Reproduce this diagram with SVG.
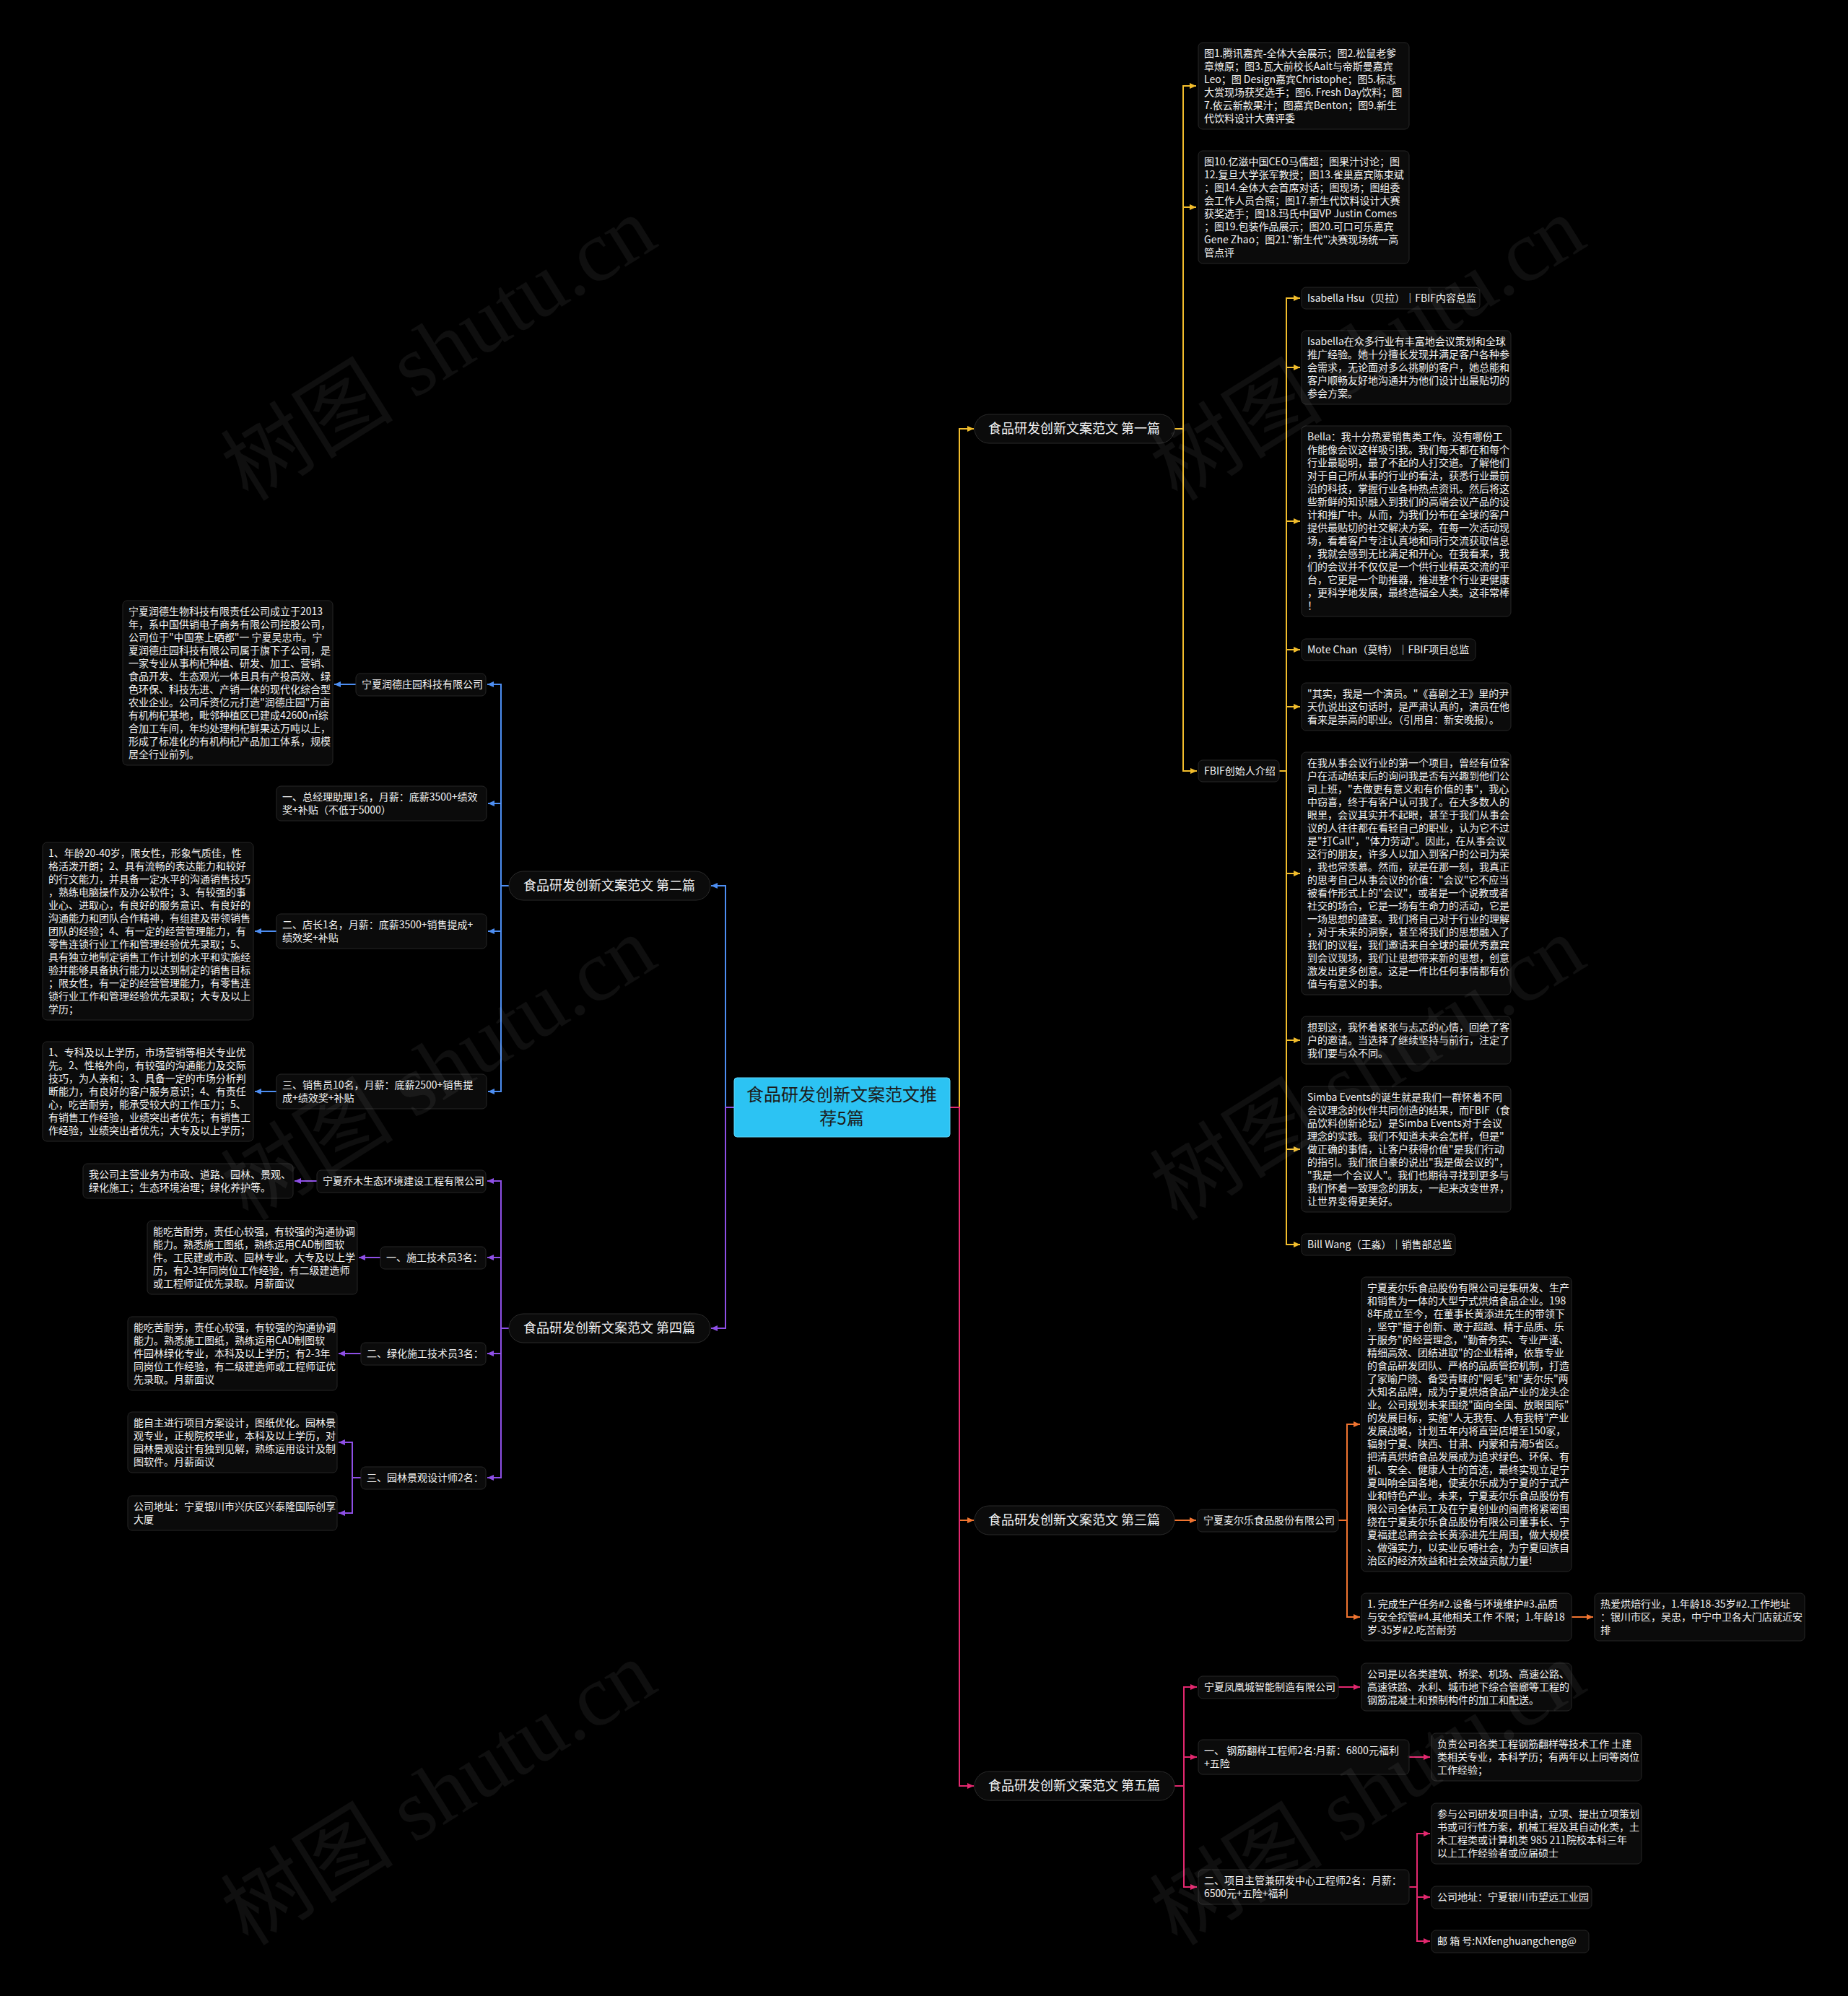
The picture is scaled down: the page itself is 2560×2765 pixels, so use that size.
<svg xmlns="http://www.w3.org/2000/svg" width="2560" height="2765" viewBox="0 0 2560 2765">
<defs>
<style>
.bg{fill:#000}
.box{fill:#0b0b0b;stroke:#262626;stroke-width:1}
.pill{fill:#0b0b0b;stroke:#2a2a2a;stroke-width:1}
.t{font-family:"Noto Sans CJK SC","Noto Sans",sans-serif;font-size:14px;fill:#f2f2f2}
.bt{font-family:"Noto Sans CJK SC","Noto Sans",sans-serif;font-size:18px;fill:#f2f2f2;text-anchor:middle}
.ct{font-family:"Noto Sans CJK SC","Noto Sans",sans-serif;font-size:24px;fill:#1c1c1c;text-anchor:middle}
.ln{fill:none;stroke-width:2}
.y{stroke:#f2bd2c}.b{stroke:#4d8ef2}.p{stroke:#8e4fe6}.o{stroke:#f07430}.r{stroke:#e3286f}
.wm{font-family:"Liberation Serif","Noto Sans CJK SC",serif;font-size:120px;fill:#ffffff;fill-opacity:0.06}
</style>
<marker id="my" markerWidth="10" markerHeight="10" refX="9" refY="5" orient="auto" markerUnits="userSpaceOnUse"><path d="M0,1 L9,5 L0,9 z" fill="#f2bd2c"/></marker>
<marker id="mb" markerWidth="10" markerHeight="10" refX="9" refY="5" orient="auto" markerUnits="userSpaceOnUse"><path d="M0,1 L9,5 L0,9 z" fill="#4d8ef2"/></marker>
<marker id="mp" markerWidth="10" markerHeight="10" refX="9" refY="5" orient="auto" markerUnits="userSpaceOnUse"><path d="M0,1 L9,5 L0,9 z" fill="#8e4fe6"/></marker>
<marker id="mo" markerWidth="10" markerHeight="10" refX="9" refY="5" orient="auto" markerUnits="userSpaceOnUse"><path d="M0,1 L9,5 L0,9 z" fill="#f07430"/></marker>
<marker id="mr" markerWidth="10" markerHeight="10" refX="9" refY="5" orient="auto" markerUnits="userSpaceOnUse"><path d="M0,1 L9,5 L0,9 z" fill="#e3286f"/></marker>
</defs>
<rect class="bg" x="0" y="0" width="2560" height="2765"/>

<g id="connectors">
<!-- center to branches -->
<path class="ln y" d="M1316 1534 H1329 V594 H1349" marker-end="url(#my)"/>
<path class="ln o" d="M1316 1534 H1329 V2106 H1349" marker-end="url(#mo)"/>
<path class="ln r" d="M1316 1534 H1329 V2474 H1349" marker-end="url(#mr)"/>
<path class="ln b" d="M1017 1534 H1005 V1227 H985" marker-end="url(#mb)"/>
<path class="ln p" d="M1017 1534 H1005 V1840 H985" marker-end="url(#mp)"/>
<!-- branch 1 -->
<path class="ln y" d="M1627 594 H1639 V119 H1657" marker-end="url(#my)"/>
<path class="ln y" d="M1627 594 H1639 V287 H1657" marker-end="url(#my)"/>
<path class="ln y" d="M1627 594 H1639 V1068 H1658" marker-end="url(#my)"/>
<path class="ln y" d="M1772 1068 H1782 V413 H1801" marker-end="url(#my)"/>
<path class="ln y" d="M1782 1068 V509 H1801" marker-end="url(#my)"/>
<path class="ln y" d="M1782 1068 V722 H1801" marker-end="url(#my)"/>
<path class="ln y" d="M1782 1068 V900 H1801" marker-end="url(#my)"/>
<path class="ln y" d="M1782 1068 V979 H1801" marker-end="url(#my)"/>
<path class="ln y" d="M1782 1068 V1210 H1801" marker-end="url(#my)"/>
<path class="ln y" d="M1782 1068 V1441 H1801" marker-end="url(#my)"/>
<path class="ln y" d="M1782 1068 V1592 H1801" marker-end="url(#my)"/>
<path class="ln y" d="M1782 1068 V1724 H1801" marker-end="url(#my)"/>
<!-- branch 3 -->
<path class="ln o" d="M1627 2106 H1657" marker-end="url(#mo)"/>
<path class="ln o" d="M1854 2106 H1866 V1973 H1884" marker-end="url(#mo)"/>
<path class="ln o" d="M1866 2106 V2240 H1884" marker-end="url(#mo)"/>
<path class="ln o" d="M2177 2240 H2207" marker-end="url(#mo)"/>
<!-- branch 5 -->
<path class="ln r" d="M1627 2474 H1640 V2337 H1658" marker-end="url(#mr)"/>
<path class="ln r" d="M1640 2474 V2434 H1658" marker-end="url(#mr)"/>
<path class="ln r" d="M1640 2474 V2614 H1658" marker-end="url(#mr)"/>
<path class="ln r" d="M1854 2337 H1884" marker-end="url(#mr)"/>
<path class="ln r" d="M1952 2434 H1981" marker-end="url(#mr)"/>
<path class="ln r" d="M1952 2614 H1963 V2540 H1981" marker-end="url(#mr)"/>
<path class="ln r" d="M1963 2614 V2628 H1981" marker-end="url(#mr)"/>
<path class="ln r" d="M1963 2614 V2689 H1981" marker-end="url(#mr)"/>
<!-- branch 2 -->
<path class="ln b" d="M705 1227 H694 V948 H675" marker-end="url(#mb)"/>
<path class="ln b" d="M694 1227 V1113 H676" marker-end="url(#mb)"/>
<path class="ln b" d="M694 1227 V1290 H676" marker-end="url(#mb)"/>
<path class="ln b" d="M694 1227 V1512 H676" marker-end="url(#mb)"/>
<path class="ln b" d="M493 948 H463" marker-end="url(#mb)"/>
<path class="ln b" d="M383 1290 H353" marker-end="url(#mb)"/>
<path class="ln b" d="M383 1512 H353" marker-end="url(#mb)"/>
<!-- branch 4 -->
<path class="ln p" d="M705 1840 H694 V1636 H675" marker-end="url(#mp)"/>
<path class="ln p" d="M694 1840 V1742 H675" marker-end="url(#mp)"/>
<path class="ln p" d="M694 1840 V1875 H675" marker-end="url(#mp)"/>
<path class="ln p" d="M694 1840 V2047 H675" marker-end="url(#mp)"/>
<path class="ln p" d="M439 1636 H408" marker-end="url(#mp)"/>
<path class="ln p" d="M527 1742 H497" marker-end="url(#mp)"/>
<path class="ln p" d="M500 1875 H469" marker-end="url(#mp)"/>
<path class="ln p" d="M500 2047 H488 V1998 H469" marker-end="url(#mp)"/>
<path class="ln p" d="M488 2047 V2096 H469" marker-end="url(#mp)"/>
</g>

<g id="center">
<rect x="1017" y="1493" width="299" height="82" rx="4" fill="#2cc3f3" stroke="#5fd5fa" stroke-width="1"/>
<text class="ct"><tspan x="1166" y="1525">食品研发创新文案范文推</tspan><tspan x="1166" y="1558">荐5篇</tspan></text>
</g>

<g id="b1"><rect class="pill" x="1350" y="574" width="277" height="40" rx="20"/><text class="bt" x="1488" y="600">食品研发创新文案范文 第一篇</text></g>
<g id="b2"><rect class="pill" x="705" y="1207" width="279" height="40" rx="20"/><text class="bt" x="844" y="1233">食品研发创新文案范文 第二篇</text></g>
<g id="b3"><rect class="pill" x="1350" y="2086" width="277" height="40" rx="20"/><text class="bt" x="1488" y="2112">食品研发创新文案范文 第三篇</text></g>
<g id="b4"><rect class="pill" x="705" y="1820" width="279" height="40" rx="20"/><text class="bt" x="844" y="1846">食品研发创新文案范文 第四篇</text></g>
<g id="b5"><rect class="pill" x="1350" y="2454" width="277" height="40" rx="20"/><text class="bt" x="1488" y="2480">食品研发创新文案范文 第五篇</text></g>

<!-- branch 1 children -->
<g id="n-pics1"><rect class="box" x="1660" y="59" width="292" height="120" rx="6"/>
<text class="t"><tspan x="1668" y="79">图1.腾讯嘉宾-全体大会展示；图2.松鼠老爹</tspan><tspan x="1668" y="97">章燎原；图3.瓦大前校长Aalt与帝斯曼嘉宾</tspan><tspan x="1668" y="115">Leo；图 Design嘉宾Christophe；图5.标志</tspan><tspan x="1668" y="133">大赏现场获奖选手；图6. Fresh Day饮料；图</tspan><tspan x="1668" y="151">7.依云新款果汁；图嘉宾Benton；图9.新生</tspan><tspan x="1668" y="169">代饮料设计大赛评委</tspan></text></g>
<g id="n-pics2"><rect class="box" x="1660" y="209" width="292" height="156" rx="6"/>
<text class="t"><tspan x="1668" y="229">图10.亿滋中国CEO马儒超；图果汁讨论；图</tspan><tspan x="1668" y="247">12.复旦大学张军教授；图13.雀巢嘉宾陈束斌</tspan><tspan x="1668" y="265">；图14.全体大会首席对话；图现场；图组委</tspan><tspan x="1668" y="283">会工作人员合照；图17.新生代饮料设计大赛</tspan><tspan x="1668" y="301">获奖选手；图18.玛氏中国VP Justin Comes</tspan><tspan x="1668" y="319">；图19.包装作品展示；图20.可口可乐嘉宾</tspan><tspan x="1668" y="337">Gene Zhao；图21."新生代"决赛现场统一高</tspan><tspan x="1668" y="355">管点评</tspan></text></g>
<g id="n-fbif"><rect class="box" x="1660" y="1053" width="112" height="30" rx="6"/><text class="t" x="1668" y="1073">FBIF创始人介绍</text></g>

<g id="n-isa"><rect class="box" x="1803" y="398" width="247" height="30" rx="6"/><text class="t" x="1811" y="418">Isabella Hsu（贝拉）｜FBIF内容总监</text></g>
<g id="n-isa2"><rect class="box" x="1803" y="458" width="290" height="102" rx="6"/>
<text class="t"><tspan x="1811" y="478">Isabella在众多行业有丰富地会议策划和全球</tspan><tspan x="1811" y="496">推广经验。她十分擅长发现并满足客户各种参</tspan><tspan x="1811" y="514">会需求，无论面对多么挑剔的客户，她总能和</tspan><tspan x="1811" y="532">客户顺畅友好地沟通并为他们设计出最贴切的</tspan><tspan x="1811" y="550">参会方案。</tspan></text></g>
<g id="n-bella"><rect class="box" x="1803" y="590" width="290" height="264" rx="6"/>
<text class="t"><tspan x="1811" y="610">Bella：我十分热爱销售类工作。没有哪份工</tspan><tspan x="1811" y="628">作能像会议这样吸引我。我们每天都在和每个</tspan><tspan x="1811" y="646">行业最聪明，最了不起的人打交道。了解他们</tspan><tspan x="1811" y="664">对于自己所从事的行业的看法，获悉行业最前</tspan><tspan x="1811" y="682">沿的科技，掌握行业各种热点资讯。然后将这</tspan><tspan x="1811" y="700">些新鲜的知识融入到我们的高端会议产品的设</tspan><tspan x="1811" y="718">计和推广中。从而，为我们分布在全球的客户</tspan><tspan x="1811" y="736">提供最贴切的社交解决方案。在每一次活动现</tspan><tspan x="1811" y="754">场，看着客户专注认真地和同行交流获取信息</tspan><tspan x="1811" y="772">，我就会感到无比满足和开心。在我看来，我</tspan><tspan x="1811" y="790">们的会议并不仅仅是一个供行业精英交流的平</tspan><tspan x="1811" y="808">台，它更是一个助推器，推进整个行业更健康</tspan><tspan x="1811" y="826">，更科学地发展，最终造福全人类。这非常棒</tspan><tspan x="1811" y="844">！</tspan></text></g>
<g id="n-mote"><rect class="box" x="1803" y="885" width="241" height="30" rx="6"/><text class="t" x="1811" y="905">Mote Chan（莫特）｜FBIF项目总监</text></g>
<g id="n-quote"><rect class="box" x="1803" y="946" width="290" height="66" rx="6"/>
<text class="t"><tspan x="1811" y="966">"其实，我是一个演员。"《喜剧之王》里的尹</tspan><tspan x="1811" y="984">天仇说出这句话时，是严肃认真的，演员在他</tspan><tspan x="1811" y="1002">看来是崇高的职业。（引用自：新安晚报）。</tspan></text></g>
<g id="n-first"><rect class="box" x="1803" y="1042" width="290" height="336" rx="6"/>
<text class="t"><tspan x="1811" y="1062">在我从事会议行业的第一个项目，曾经有位客</tspan><tspan x="1811" y="1080">户在活动结束后的询问我是否有兴趣到他们公</tspan><tspan x="1811" y="1098">司上班，"去做更有意义和有价值的事"，我心</tspan><tspan x="1811" y="1116">中窃喜，终于有客户认可我了。在大多数人的</tspan><tspan x="1811" y="1134">眼里，会议其实并不起眼，甚至于我们从事会</tspan><tspan x="1811" y="1152">议的人往往都在看轻自己的职业，认为它不过</tspan><tspan x="1811" y="1170">是"打Call"，"体力劳动"。因此，在从事会议</tspan><tspan x="1811" y="1188">这行的朋友，许多人以加入到客户的公司为荣</tspan><tspan x="1811" y="1206">，我也常羡慕。然而，就是在那一刻，我真正</tspan><tspan x="1811" y="1224">的思考自己从事会议的价值："会议"它不应当</tspan><tspan x="1811" y="1242">被看作形式上的"会议"，或者是一个说教或者</tspan><tspan x="1811" y="1260">社交的场合，它是一场有生命力的活动，它是</tspan><tspan x="1811" y="1278">一场思想的盛宴。我们将自己对于行业的理解</tspan><tspan x="1811" y="1296">，对于未来的洞察，甚至将我们的思想融入了</tspan><tspan x="1811" y="1314">我们的议程，我们邀请来自全球的最优秀嘉宾</tspan><tspan x="1811" y="1332">到会议现场，我们让思想带来新的思想，创意</tspan><tspan x="1811" y="1350">激发出更多创意。这是一件比任何事情都有价</tspan><tspan x="1811" y="1368">值与有意义的事。</tspan></text></g>
<g id="n-think"><rect class="box" x="1803" y="1408" width="290" height="66" rx="6"/>
<text class="t"><tspan x="1811" y="1428">想到这，我怀着紧张与忐忑的心情，回绝了客</tspan><tspan x="1811" y="1446">户的邀请。当选择了继续坚持与前行，注定了</tspan><tspan x="1811" y="1464">我们要与众不同。</tspan></text></g>
<g id="n-simba"><rect class="box" x="1803" y="1505" width="290" height="174" rx="6"/>
<text class="t"><tspan x="1811" y="1525">Simba Events的诞生就是我们一群怀着不同</tspan><tspan x="1811" y="1543">会议理念的伙伴共同创造的结果，而FBIF（食</tspan><tspan x="1811" y="1561">品饮料创新论坛）是Simba Events对于会议</tspan><tspan x="1811" y="1579">理念的实践。我们不知道未来会怎样，但是"</tspan><tspan x="1811" y="1597">做正确的事情，让客户获得价值"是我们行动</tspan><tspan x="1811" y="1615">的指引。我们很自豪的说出"我是做会议的"，</tspan><tspan x="1811" y="1633">"我是一个会议人"。我们也期待寻找到更多与</tspan><tspan x="1811" y="1651">我们怀着一致理念的朋友，一起来改变世界，</tspan><tspan x="1811" y="1669">让世界变得更美好。</tspan></text></g>
<g id="n-bill"><rect class="box" x="1803" y="1709" width="213" height="30" rx="6"/><text class="t" x="1811" y="1729">Bill Wang（王淼）｜销售部总监</text></g>

<!-- branch 3 children -->
<g id="n-maierle"><rect class="box" x="1659" y="2091" width="195" height="31" rx="6"/><text class="t" x="1667" y="2111">宁夏麦尔乐食品股份有限公司</text></g>
<g id="n-maierle-desc"><rect class="box" x="1886" y="1769" width="291" height="408" rx="6"/>
<text class="t"><tspan x="1894" y="1789">宁夏麦尔乐食品股份有限公司是集研发、生产</tspan><tspan x="1894" y="1807">和销售为一体的大型宁式烘焙食品企业。198</tspan><tspan x="1894" y="1825">8年成立至今，在董事长黄添进先生的带领下</tspan><tspan x="1894" y="1843">，坚守"擅于创新、敢于超越、精于品质、乐</tspan><tspan x="1894" y="1861">于服务"的经营理念，"勤奋务实、专业严谨、</tspan><tspan x="1894" y="1879">精细高效、团结进取"的企业精神，依靠专业</tspan><tspan x="1894" y="1897">的食品研发团队、严格的品质管控机制，打造</tspan><tspan x="1894" y="1915">了家喻户晓、备受青睐的"阿毛"和"麦尔乐"两</tspan><tspan x="1894" y="1933">大知名品牌，成为宁夏烘焙食品产业的龙头企</tspan><tspan x="1894" y="1951">业。公司规划未来围绕"面向全国、放眼国际"</tspan><tspan x="1894" y="1969">的发展目标，实施"人无我有、人有我特"产业</tspan><tspan x="1894" y="1987">发展战略，计划五年内将直营店增至150家，</tspan><tspan x="1894" y="2005">辐射宁夏、陕西、甘肃、内蒙和青海5省区。</tspan><tspan x="1894" y="2023">把清真烘焙食品发展成为追求绿色、环保、有</tspan><tspan x="1894" y="2041">机、安全、健康人士的首选，最终实现立足宁</tspan><tspan x="1894" y="2059">夏叫响全国各地，使麦尔乐成为宁夏的宁式产</tspan><tspan x="1894" y="2077">业和特色产业。未来，宁夏麦尔乐食品股份有</tspan><tspan x="1894" y="2095">限公司全体员工及在宁夏创业的闽商将紧密围</tspan><tspan x="1894" y="2113">绕在宁夏麦尔乐食品股份有限公司董事长、宁</tspan><tspan x="1894" y="2131">夏福建总商会会长黄添进先生周围，做大规模</tspan><tspan x="1894" y="2149">、做强实力，以实业反哺社会，为宁夏回族自</tspan><tspan x="1894" y="2167">治区的经济效益和社会效益贡献力量!</tspan></text></g>
<g id="n-task"><rect class="box" x="1886" y="2207" width="291" height="66" rx="6"/>
<text class="t"><tspan x="1894" y="2227">1. 完成生产任务#2.设备与环境维护#3.品质</tspan><tspan x="1894" y="2245">与安全控管#4.其他相关工作 不限；1.年龄18</tspan><tspan x="1894" y="2263">岁-35岁#2.吃苦耐劳</tspan></text></g>
<g id="n-love"><rect class="box" x="2209" y="2207" width="291" height="66" rx="6"/>
<text class="t"><tspan x="2217" y="2227">热爱烘焙行业，1.年龄18-35岁#2.工作地址</tspan><tspan x="2217" y="2245">：银川市区，吴忠，中宁中卫各大门店就近安</tspan><tspan x="2217" y="2263">排</tspan></text></g>

<!-- branch 5 children -->
<g id="n-fhc"><rect class="box" x="1660" y="2322" width="194" height="31" rx="6"/><text class="t" x="1668" y="2342">宁夏凤凰城智能制造有限公司</text></g>
<g id="n-fhc-desc"><rect class="box" x="1886" y="2304" width="291" height="66" rx="6"/>
<text class="t"><tspan x="1894" y="2324">公司是以各类建筑、桥梁、机场、高速公路、</tspan><tspan x="1894" y="2342">高速铁路、水利、城市地下综合管廊等工程的</tspan><tspan x="1894" y="2360">钢筋混凝土和预制构件的加工和配送。</tspan></text></g>
<g id="n-gj"><rect class="box" x="1660" y="2410" width="292" height="48" rx="6"/>
<text class="t"><tspan x="1668" y="2430">一、 钢筋翻样工程师2名:月薪：6800元福利</tspan><tspan x="1668" y="2448">+五险</tspan></text></g>
<g id="n-gj-desc"><rect class="box" x="1983" y="2401" width="291" height="66" rx="6"/>
<text class="t"><tspan x="1991" y="2421">负责公司各类工程钢筋翻样等技术工作 土建</tspan><tspan x="1991" y="2439">类相关专业，本科学历；有两年以上同等岗位</tspan><tspan x="1991" y="2457">工作经验；</tspan></text></g>
<g id="n-xm"><rect class="box" x="1660" y="2590" width="292" height="48" rx="6"/>
<text class="t"><tspan x="1668" y="2610">二、项目主管兼研发中心工程师2名：月薪：</tspan><tspan x="1668" y="2628">6500元+五险+福利</tspan></text></g>
<g id="n-xm-desc"><rect class="box" x="1983" y="2498" width="291" height="84" rx="6"/>
<text class="t"><tspan x="1991" y="2518">参与公司研发项目申请，立项、提出立项策划</tspan><tspan x="1991" y="2536">书或可行性方案，机械工程及其自动化类，土</tspan><tspan x="1991" y="2554">木工程类或计算机类 985 211院校本科三年</tspan><tspan x="1991" y="2572">以上工作经验者或应届硕士</tspan></text></g>
<g id="n-xm-addr"><rect class="box" x="1983" y="2613" width="222" height="31" rx="6"/><text class="t" x="1991" y="2633">公司地址：宁夏银川市望远工业园</text></g>
<g id="n-xm-mail"><rect class="box" x="1983" y="2674" width="218" height="31" rx="6"/><text class="t" x="1991" y="2694">邮 箱 号:NXfenghuangcheng@</text></g>

<!-- branch 2 children -->
<g id="n-rd"><rect class="box" x="493" y="933" width="180" height="31" rx="6"/><text class="t" x="501" y="953">宁夏润德庄园科技有限公司</text></g>
<g id="n-rd-desc"><rect class="box" x="170" y="832" width="291" height="228" rx="6"/>
<text class="t"><tspan x="178" y="852">宁夏润德生物科技有限责任公司成立于2013</tspan><tspan x="178" y="870">年，系中国供销电子商务有限公司控股公司，</tspan><tspan x="178" y="888">公司位于"中国塞上硒都"一 宁夏吴忠市。宁</tspan><tspan x="178" y="906">夏润德庄园科技有限公司属于旗下子公司，是</tspan><tspan x="178" y="924">一家专业从事枸杞种植、研发、加工、营销、</tspan><tspan x="178" y="942">食品开发、生态观光一体且具有产投高效、绿</tspan><tspan x="178" y="960">色环保、科技先进、产销一体的现代化综合型</tspan><tspan x="178" y="978">农业企业。公司斥资亿元打造"润德庄园"万亩</tspan><tspan x="178" y="996">有机枸杞基地，毗邻种植区已建成42600㎡综</tspan><tspan x="178" y="1014">合加工车间，年均处理枸杞鲜果达万吨以上，</tspan><tspan x="178" y="1032">形成了标准化的有机枸杞产品加工体系，规模</tspan><tspan x="178" y="1050">居全行业前列。</tspan></text></g>
<g id="n-zjl"><rect class="box" x="383" y="1089" width="291" height="48" rx="6"/>
<text class="t"><tspan x="391" y="1109">一、总经理助理1名，月薪：底薪3500+绩效</tspan><tspan x="391" y="1127">奖+补贴（不低于5000）</tspan></text></g>
<g id="n-dz"><rect class="box" x="383" y="1266" width="291" height="48" rx="6"/>
<text class="t"><tspan x="391" y="1286">二、店长1名，月薪：底薪3500+销售提成+</tspan><tspan x="391" y="1304">绩效奖+补贴</tspan></text></g>
<g id="n-dz-desc"><rect class="box" x="59" y="1167" width="292" height="246" rx="6"/>
<text class="t"><tspan x="67" y="1187">1、年龄20-40岁，限女性，形象气质佳，性</tspan><tspan x="67" y="1205">格活泼开朗；2、具有流畅的表达能力和较好</tspan><tspan x="67" y="1223">的行文能力，并具备一定水平的沟通销售技巧</tspan><tspan x="67" y="1241">，熟练电脑操作及办公软件；3、有较强的事</tspan><tspan x="67" y="1259">业心、进取心，有良好的服务意识、有良好的</tspan><tspan x="67" y="1277">沟通能力和团队合作精神，有组建及带领销售</tspan><tspan x="67" y="1295">团队的经验；4、有一定的经营管理能力，有</tspan><tspan x="67" y="1313">零售连锁行业工作和管理经验优先录取；5、</tspan><tspan x="67" y="1331">具有独立地制定销售工作计划的水平和实施经</tspan><tspan x="67" y="1349">验并能够具备执行能力以达到制定的销售目标</tspan><tspan x="67" y="1367">；限女性，有一定的经营管理能力，有零售连</tspan><tspan x="67" y="1385">锁行业工作和管理经验优先录取；大专及以上</tspan><tspan x="67" y="1403">学历；</tspan></text></g>
<g id="n-xsy"><rect class="box" x="383" y="1488" width="291" height="48" rx="6"/>
<text class="t"><tspan x="391" y="1508">三、销售员10名，月薪：底薪2500+销售提</tspan><tspan x="391" y="1526">成+绩效奖+补贴</tspan></text></g>
<g id="n-xsy-desc"><rect class="box" x="59" y="1443" width="292" height="138" rx="6"/>
<text class="t"><tspan x="67" y="1463">1、专科及以上学历，市场营销等相关专业优</tspan><tspan x="67" y="1481">先。2、性格外向，有较强的沟通能力及交际</tspan><tspan x="67" y="1499">技巧，为人亲和；3、具备一定的市场分析判</tspan><tspan x="67" y="1517">断能力，有良好的客户服务意识；4、有责任</tspan><tspan x="67" y="1535">心，吃苦耐劳，能承受较大的工作压力；5、</tspan><tspan x="67" y="1553">有销售工作经验，业绩突出者优先；有销售工</tspan><tspan x="67" y="1571">作经验，业绩突出者优先；大专及以上学历；</tspan></text></g>

<!-- branch 4 children -->
<g id="n-qm"><rect class="box" x="439" y="1621" width="234" height="31" rx="6"/><text class="t" x="447" y="1641">宁夏乔木生态环境建设工程有限公司</text></g>
<g id="n-qm-desc"><rect class="box" x="115" y="1612" width="291" height="48" rx="6"/>
<text class="t"><tspan x="123" y="1632">我公司主营业务为市政、道路、园林、景观、</tspan><tspan x="123" y="1650">绿化施工；生态环境治理；绿化养护等。</tspan></text></g>
<g id="n-sg"><rect class="box" x="527" y="1727" width="146" height="31" rx="6"/><text class="t" x="535" y="1747">一、施工技术员3名：</text></g>
<g id="n-sg-desc"><rect class="box" x="204" y="1691" width="291" height="102" rx="6"/>
<text class="t"><tspan x="212" y="1711">能吃苦耐劳，责任心较强，有较强的沟通协调</tspan><tspan x="212" y="1729">能力。熟悉施工图纸，熟练运用CAD制图软</tspan><tspan x="212" y="1747">件。工民建或市政、园林专业。大专及以上学</tspan><tspan x="212" y="1765">历，有2-3年同岗位工作经验，有二级建造师</tspan><tspan x="212" y="1783">或工程师证优先录取。月薪面议</tspan></text></g>
<g id="n-lh"><rect class="box" x="500" y="1860" width="173" height="31" rx="6"/><text class="t" x="508" y="1880">二、绿化施工技术员3名：</text></g>
<g id="n-lh-desc"><rect class="box" x="177" y="1824" width="290" height="102" rx="6"/>
<text class="t"><tspan x="185" y="1844">能吃苦耐劳，责任心较强，有较强的沟通协调</tspan><tspan x="185" y="1862">能力。熟悉施工图纸，熟练运用CAD制图软</tspan><tspan x="185" y="1880">件园林绿化专业，本科及以上学历；有2-3年</tspan><tspan x="185" y="1898">同岗位工作经验，有二级建造师或工程师证优</tspan><tspan x="185" y="1916">先录取。月薪面议</tspan></text></g>
<g id="n-yl"><rect class="box" x="500" y="2032" width="173" height="31" rx="6"/><text class="t" x="508" y="2052">三、园林景观设计师2名：</text></g>
<g id="n-yl-desc"><rect class="box" x="177" y="1956" width="290" height="84" rx="6"/>
<text class="t"><tspan x="185" y="1976">能自主进行项目方案设计，图纸优化。园林景</tspan><tspan x="185" y="1994">观专业，正规院校毕业，本科及以上学历，对</tspan><tspan x="185" y="2012">园林景观设计有独到见解，熟练运用设计及制</tspan><tspan x="185" y="2030">图软件。月薪面议</tspan></text></g>
<g id="n-yl-addr"><rect class="box" x="177" y="2072" width="290" height="48" rx="6"/>
<text class="t"><tspan x="185" y="2092">公司地址：宁夏银川市兴庆区兴泰隆国际创享</tspan><tspan x="185" y="2110">大厦</tspan></text></g>

<g id="watermarks">
<text class="wm" transform="translate(344 696) rotate(-32)">树图 shutu.cn</text>
<text class="wm" transform="translate(344 1693) rotate(-32)">树图 shutu.cn</text>
<text class="wm" transform="translate(344 2697) rotate(-32)">树图 shutu.cn</text>
<text class="wm" transform="translate(1631 696) rotate(-32)">树图 shutu.cn</text>
<text class="wm" transform="translate(1631 1693) rotate(-32)">树图 shutu.cn</text>
<text class="wm" transform="translate(1631 2697) rotate(-32)">树图 shutu.cn</text>
</g>
</svg>
